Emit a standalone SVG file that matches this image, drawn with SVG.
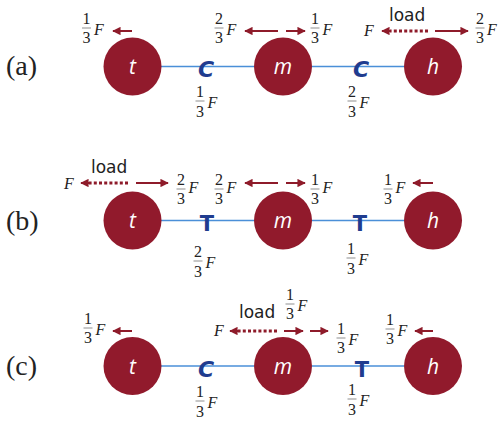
<svg xmlns="http://www.w3.org/2000/svg" width="500" height="426" viewBox="0 0 500 426">
<style>
.bg{fill:#fff}
.ball{fill:#911a2c}
.in{font-family:"Open Sans","DejaVu Sans",sans-serif;font-style:italic;font-size:21px;fill:#fff;text-anchor:middle}
.rod{stroke:#4a8fd8;stroke-width:1.6;fill:none}
.ct{font-family:"DejaVu Sans",sans-serif;font-weight:bold;font-style:italic;font-size:22px;fill:#1f3c8f;text-anchor:middle}
.tt{font-family:"DejaVu Sans",sans-serif;font-weight:bold;font-size:21px;fill:#1f3c8f;text-anchor:middle}
.lbl{font-family:"Liberation Serif",serif;font-size:28px;fill:#222}
.fr{font-family:"Liberation Serif",serif;font-size:16px;fill:#222;text-anchor:middle}
.F{font-family:"Liberation Serif",serif;font-style:italic;font-size:16px;fill:#222}
.bar{stroke:#444;stroke-width:0.6}
.load{font-family:"DejaVu Sans",sans-serif;font-size:17px;fill:#222}
.ar{stroke:#8e1b2a;stroke-width:2;fill:none;marker-end:url(#ah)}
.dot{stroke:#8e1b2a;stroke-width:3;stroke-dasharray:3 2.2;fill:none}
</style>
<defs>
<marker id="ah" viewBox="0 0 10 10" refX="9" refY="5" markerWidth="4.2" markerHeight="4.2" orient="auto" markerUnits="strokeWidth">
<path d="M0,0L10,5L0,10z" fill="#8e1b2a"/>
</marker>
</defs>
<rect class="bg" width="500" height="426"/>

<!-- row labels -->
<text class="lbl" x="6" y="75">(a)</text>
<text class="lbl" x="6" y="230">(b)</text>
<text class="lbl" x="6" y="375">(c)</text>

<g id="connectors">
<!-- row a -->
<line class="rod" x1="161" y1="66.5" x2="254" y2="66.5"/>
<line class="rod" x1="312" y1="66.5" x2="404" y2="66.5"/>
<text class="ct" x="206" y="77">C</text>
<text class="ct" x="361" y="77">C</text>
<!-- row b -->
<line class="rod" x1="161" y1="220.5" x2="254" y2="220.5"/>
<line class="rod" x1="312" y1="220.5" x2="404" y2="220.5"/>
<text class="tt" x="207" y="231">T</text>
<text class="tt" x="360" y="231">T</text>
<!-- row c -->
<line class="rod" x1="161" y1="366" x2="254" y2="366"/>
<line class="rod" x1="312" y1="366" x2="404" y2="366"/>
<text class="ct" x="206" y="377">C</text>
<text class="tt" x="362" y="377">T</text>

<!-- row a arrows -->
<line class="ar" x1="132" y1="31" x2="113" y2="31"/>
<line class="ar" x1="278" y1="31" x2="245" y2="31"/>
<line class="ar" x1="286" y1="31" x2="305" y2="31"/>
<line class="dot" x1="428" y1="31" x2="390" y2="31"/>
<line class="ar" x1="390" y1="31" x2="382" y2="31"/>
<line class="ar" x1="435" y1="31" x2="468" y2="31"/>
<!-- row b arrows -->
<line class="dot" x1="128" y1="183" x2="89" y2="183"/>
<line class="ar" x1="89" y1="183" x2="81" y2="183"/>
<line class="ar" x1="136" y1="183" x2="168" y2="183"/>
<line class="ar" x1="278" y1="183" x2="245" y2="183"/>
<line class="ar" x1="286" y1="183" x2="305" y2="183"/>
<line class="ar" x1="433" y1="183" x2="413" y2="183"/>
<!-- row c arrows -->
<line class="ar" x1="132" y1="331" x2="113" y2="331"/>
<line class="dot" x1="277" y1="331" x2="238" y2="331"/>
<line class="ar" x1="238" y1="331" x2="230" y2="331"/>
<line class="ar" x1="284" y1="331" x2="303" y2="331"/>
<line class="ar" x1="310" y1="331" x2="328" y2="331"/>
<line class="ar" x1="433" y1="331" x2="415" y2="331"/>
</g>

<!-- nodes -->
<g id="a-t"><circle class="ball" cx="132.5" cy="66.5" r="29"/><text class="in" x="132.5" y="74">t</text></g>
<g id="a-m"><circle class="ball" cx="283" cy="66.5" r="29"/><text class="in" x="283" y="74">m</text></g>
<g id="a-h"><circle class="ball" cx="433" cy="66.5" r="29"/><text class="in" x="433" y="74">h</text></g>
<g id="b-t"><circle class="ball" cx="132.5" cy="220.5" r="29"/><text class="in" x="132.5" y="228">t</text></g>
<g id="b-m"><circle class="ball" cx="283" cy="220.5" r="29"/><text class="in" x="283" y="228">m</text></g>
<g id="b-h"><circle class="ball" cx="433" cy="220.5" r="29"/><text class="in" x="433" y="228">h</text></g>
<g id="c-t"><circle class="ball" cx="132.5" cy="366" r="29"/><text class="in" x="132.5" y="373.5">t</text></g>
<g id="c-m"><circle class="ball" cx="283" cy="366" r="29"/><text class="in" x="283" y="373.5">m</text></g>
<g id="c-h"><circle class="ball" cx="433" cy="366" r="29"/><text class="in" x="433" y="373.5">h</text></g>

<!-- labels row a -->
<g id="labels-a">
<text class="fr" x="86.5" y="24">1</text><line class="bar" x1="82" y1="28" x2="91" y2="28"/><text class="fr" x="86.5" y="43">3</text><text class="F" x="94" y="35">F</text>
<text class="fr" x="219" y="24">2</text><line class="bar" x1="214.5" y1="28" x2="223.5" y2="28"/><text class="fr" x="219" y="43">3</text><text class="F" x="226.5" y="35">F</text>
<text class="fr" x="315" y="24">1</text><line class="bar" x1="310.5" y1="28" x2="319.5" y2="28"/><text class="fr" x="315" y="43">3</text><text class="F" x="322.5" y="35">F</text>
<text class="F" x="364" y="36">F</text>
<text class="load" x="389" y="21">load</text>
<text class="fr" x="480" y="24">2</text><line class="bar" x1="475.5" y1="28" x2="484.5" y2="28"/><text class="fr" x="480" y="43">3</text><text class="F" x="487" y="35">F</text>
<text class="fr" x="200" y="97">1</text><line class="bar" x1="195.5" y1="101" x2="204.5" y2="101"/><text class="fr" x="200" y="117">3</text><text class="F" x="207.5" y="108">F</text>
<text class="fr" x="352" y="97">2</text><line class="bar" x1="347.5" y1="101" x2="356.5" y2="101"/><text class="fr" x="352" y="117">3</text><text class="F" x="359.5" y="108">F</text>
</g>

<!-- labels row b -->
<g id="labels-b">
<text class="load" x="91" y="173">load</text>
<text class="F" x="64" y="189">F</text>
<text class="fr" x="181" y="185">2</text><line class="bar" x1="176.5" y1="189" x2="185.5" y2="189"/><text class="fr" x="181" y="204">3</text><text class="F" x="188.5" y="193">F</text>
<text class="fr" x="219" y="185">2</text><line class="bar" x1="214.5" y1="189" x2="223.5" y2="189"/><text class="fr" x="219" y="204">3</text><text class="F" x="226.5" y="193">F</text>
<text class="fr" x="315" y="185">1</text><line class="bar" x1="310.5" y1="189" x2="319.5" y2="189"/><text class="fr" x="315" y="204">3</text><text class="F" x="322.5" y="193">F</text>
<text class="fr" x="388" y="185">1</text><line class="bar" x1="383.5" y1="189" x2="392.5" y2="189"/><text class="fr" x="388" y="204">3</text><text class="F" x="395.5" y="193">F</text>
<text class="fr" x="198" y="257">2</text><line class="bar" x1="193.5" y1="261" x2="202.5" y2="261"/><text class="fr" x="198" y="277">3</text><text class="F" x="205.5" y="268">F</text>
<text class="fr" x="351" y="254">1</text><line class="bar" x1="346.5" y1="258" x2="355.5" y2="258"/><text class="fr" x="351" y="274">3</text><text class="F" x="358.5" y="265">F</text>
</g>

<!-- labels row c -->
<g id="labels-c">
<text class="fr" x="88" y="324">1</text><line class="bar" x1="83.5" y1="328" x2="92.5" y2="328"/><text class="fr" x="88" y="343">3</text><text class="F" x="95.5" y="335">F</text>
<text class="F" x="214" y="336">F</text>
<text class="load" x="239" y="318">load</text>
<text class="fr" x="290" y="300">1</text><line class="bar" x1="285.5" y1="304" x2="294.5" y2="304"/><text class="fr" x="290" y="319">3</text><text class="F" x="297.5" y="311">F</text>
<text class="fr" x="341" y="334">1</text><line class="bar" x1="336.5" y1="338" x2="345.5" y2="338"/><text class="fr" x="341" y="353">3</text><text class="F" x="348.5" y="345">F</text>
<text class="fr" x="390" y="325">1</text><line class="bar" x1="385.5" y1="329" x2="394.5" y2="329"/><text class="fr" x="390" y="344">3</text><text class="F" x="397.5" y="336">F</text>
<text class="fr" x="200" y="397">1</text><line class="bar" x1="195.5" y1="401" x2="204.5" y2="401"/><text class="fr" x="200" y="417">3</text><text class="F" x="207.5" y="408">F</text>
<text class="fr" x="352" y="395">1</text><line class="bar" x1="347.5" y1="399" x2="356.5" y2="399"/><text class="fr" x="352" y="415">3</text><text class="F" x="359.5" y="406">F</text>
</g>
</svg>
